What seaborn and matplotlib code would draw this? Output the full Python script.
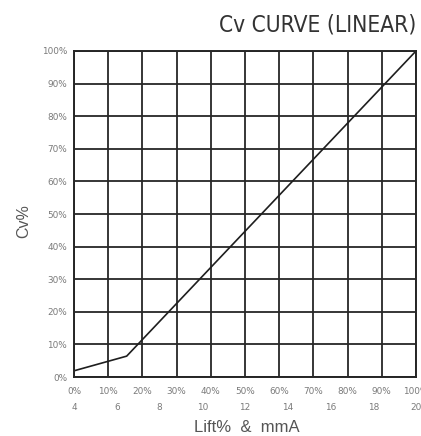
import matplotlib
matplotlib.use("Agg")
import matplotlib.pyplot as plt
import seaborn as sns
import pandas as pd

# Valve flow characteristic: lift (%) vs. flow coefficient Cv (%)
lift_pct = [0, 15.4, 100]
cv_pct = [1.9, 6.4, 100]

x_ticks = [0, 10, 20, 30, 40, 50, 60, 70, 80, 90, 100]
x_tick_labels = ["0%", "10%", "20%", "30%", "40%", "50%", "60%", "70%", "80%", "90%", "100%"]
ma_labels = ["4", "6", "8", "10", "12", "14", "16", "18", "20"]
ma_lift = [0, 12.5, 25, 37.5, 50, 62.5, 75, 87.5, 100]
y_ticks = [0, 10, 20, 30, 40, 50, 60, 70, 80, 90, 100]
y_tick_labels = ["0%", "10%", "20%", "30%", "40%", "50%", "60%", "70%", "80%", "90%", "100%"]

df = pd.DataFrame({"lift": lift_pct, "cv": cv_pct})

sns.set_style("white")
plt.rcParams["font.family"] = ["Liberation Sans", "DejaVu Sans"]

tick_font = dict(fontsize=6.4, color="#7a7a7a", family="DejaVu Sans")

fig = plt.figure(figsize=(4.21, 4.36), dpi=100)
ax = fig.add_axes([74 / 421, 1 - 377 / 436, (416 - 74) / 421, (377 - 51) / 436])

sns.lineplot(data=df, x="lift", y="cv", ax=ax, color="#1e1e1e", linewidth=1.2)

ax.set_xlim(0, 100)
ax.set_ylim(0, 100)
ax.set_xticks(x_ticks)
ax.set_yticks(y_ticks)
ax.set_xticklabels(x_tick_labels, **tick_font)
ax.set_yticklabels(y_tick_labels, **tick_font)
ax.tick_params(axis="x", length=0, pad=7)
ax.tick_params(axis="y", length=0, pad=5)

# second row of x labels: 4-20 mA control signal
for pos, lab in zip(ma_lift, ma_labels):
    ax.text(pos, -9.5, lab, ha="center", va="center", clip_on=False, **tick_font)

ax.grid(True, color="#262626", linewidth=1.3)
for s in ax.spines.values():
    s.set_color("#262626")
    s.set_linewidth(1.4)

ax.set_xlabel("")
ax.set_ylabel("")
fig.text(247 / 421, 1 - 427 / 436, "Lift%  &  mmA", ha="center", va="center",
         fontsize=12, color="#555555")
fig.text(24 / 421, 1 - 221 / 436, "Cv%", ha="center", va="center",
         fontsize=11.5, color="#555555", rotation=90)

fig.text(416 / 421, 1 - 25 / 436, "Cv CURVE (LINEAR)", ha="right", va="center",
         fontsize=16.3, color="#333333", family="DejaVu Sans", fontstretch="condensed")

fig.savefig("out.png", dpi=100)
